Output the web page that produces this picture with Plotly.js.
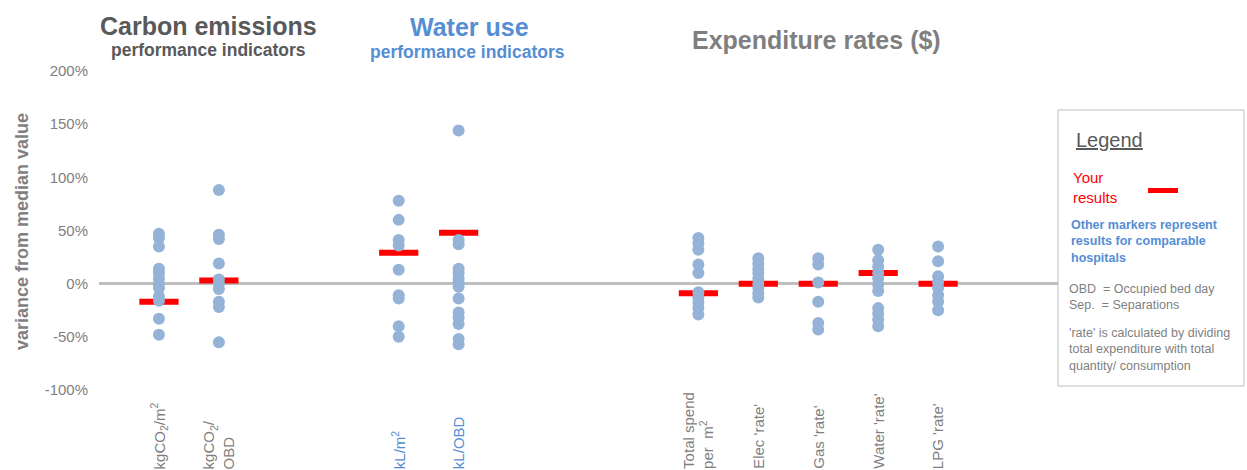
<!DOCTYPE html>
<html>
<head>
<meta charset="utf-8">
<script src="https://cdn.plot.ly/plotly-3.0.1.min.js"></script>
<style>html,body{margin:0;padding:0;background:#fff;}#chart{width:1247px;height:470px;}</style>
</head>
<body>
<div id="chart"></div>
<script>
// ---- data ----
const categories = ["kgCO2/m2", "kgCO2/OBD", "kL/m2", "kL/OBD", "Total spend per m2", "Elec 'rate'", "Gas 'rate'", "Water 'rate'", "LPG 'rate'"];
const tickLabels = ["kgCO<sub>2</sub>/m<sup>2</sup>", "kgCO<sub>2</sub>/<br>OBD", "kL/m<sup>2</sup>", "kL/OBD", "Total spend<br>per \u00a0m<sup>2</sup>", "Elec 'rate'", "Gas 'rate'", "Water 'rate'", "LPG 'rate'"];
const labelGroups = ["carbon", "carbon", "water", "water", "spend", "spend", "spend", "spend", "spend"];

const carbonPerM2 = [47, 43, 35, 14, 10, 5, 0, -4, -12, -16, -33, -48];
const carbonPerOBD = [88, 46, 42, 19, 4, 0, -5, -17, -22, -55];
const waterPerM2 = [78, 60, 41, 36, 13, -11, -14, -40, -50];
const waterPerOBD = [144, 41, 37, 14, 10, 5, 1, -3, -14, -27, -32, -38, -52, -57];
const totalSpendPerM2 = [43, 38, 32, 18, 10, -8, -13, -18, -23, -29];
const elecRate = [24, 19, 14, 10, 5, 0, -4, -9, -13];
const gasRate = [24, 18, 1, -17, -37, -43];
const waterRate = [32, 22, 16, 10, 5, -1, -7, -23, -28, -34, -40];
const lpgRate = [35, 21, 7, 1, -4, -11, -17, -25];

const yourResults = [-17, 3, 29, 48, -9, 0, 0, 10, 0];

const yTicks = [-100, -50, 0, 50, 100, 150, 200];

// ---- build ----
const comparables = [carbonPerM2, carbonPerOBD, waterPerM2, waterPerOBD, totalSpendPerM2, elecRate, gasRate, waterRate, lpgRate];
const compX = [], compY = [];
comparables.forEach((vals, i) => vals.forEach(v => { compX.push(categories[i]); compY.push(v); }));

// axis slots with spacer gaps between groups
const slots = [categories[0], categories[1], " ", "  ", categories[2], categories[3], "   ", "    ", "     ",
  categories[4], categories[5], categories[6], categories[7], categories[8]];

const FONT = "Liberation Sans, Arial, sans-serif";
const GRAY = "#7f7f7f", DARK = "#595959", BLUE = "#558ED5";

const traces = [
  {
    type: "scatter", mode: "markers", x: categories, y: yourResults, name: "Your results",
    marker: { symbol: "line-ew", size: 28, color: "#FF0000", line: { color: "#FF0000", width: 6 } },
    hoverinfo: "x+y"
  },
  {
    type: "scatter", mode: "markers", x: compX, y: compY, name: "Comparable hospitals",
    marker: { symbol: "circle", size: 12, color: "#95B3D7", line: { width: 0 } },
    hoverinfo: "x+y"
  }
];

// pixel helpers for paper placement (plot area: x 99..1058, y 71..390)
const L = 99, R = 1058, T = 71, B = 390;
const px = p => (p - L) / (R - L);
const py = p => (B - p) / (B - T);

const annotations = [];
tickLabels.forEach((t, i) => {
  annotations.push({
    xref: "x", yref: "paper", x: categories[i], y: py(471),
    xanchor: "center", yanchor: "bottom", textangle: -90, align: "left",
    text: t, showarrow: false,
    font: { family: FONT, size: 15, color: labelGroups[i] === "water" ? BLUE : GRAY }
  });
});

function centered(x, y, text, size, color, angle) {
  return { xref: "paper", yref: "paper", x: px(x), y: py(y), xanchor: "center", yanchor: "middle",
    textangle: angle || 0, showarrow: false, text: text, font: { family: FONT, size: size, color: color } };
}

annotations.push(
  centered(22, 232, "<b>variance from median value</b>", 18, GRAY, -90),
  centered(208, 26, "<b>Carbon emissions</b>", 25, DARK),
  centered(208, 50, "<b>performance indicators</b>", 17.5, DARK),
  centered(469, 27, "<b>Water use</b>", 25, BLUE),
  centered(467.5, 52, "<b>performance indicators</b>", 17.5, BLUE),
  centered(816.5, 40, "<b>Expenditure rates ($)</b>", 25, GRAY),
  // legend box texts
  { xref: "paper", yref: "paper", x: px(1074), y: py(140), xanchor: "left", yanchor: "middle", showarrow: false,
    text: "<u>Legend</u>", font: { family: FONT, size: 20, color: DARK } },
  { xref: "paper", yref: "paper", x: px(1071), y: py(167), xanchor: "left", yanchor: "top", align: "left", showarrow: false,
    text: "Your<br>results", font: { family: FONT, size: 15, color: "#FF0000" } },
  { xref: "paper", yref: "paper", x: px(1069), y: py(216), xanchor: "left", yanchor: "top", align: "left", showarrow: false,
    text: "<b>Other markers represent<br>results for comparable<br>hospitals</b>", font: { family: FONT, size: 12.5, color: BLUE } },
  { xref: "paper", yref: "paper", x: px(1067), y: py(280), xanchor: "left", yanchor: "top", align: "left", showarrow: false,
    text: "OBD \u00a0= Occupied bed day<br>Sep. \u00a0= Separations", font: { family: FONT, size: 12.5, color: GRAY } },
  { xref: "paper", yref: "paper", x: px(1067), y: py(324), xanchor: "left", yanchor: "top", align: "left", showarrow: false,
    text: "'rate' is calculated by dividing<br>total expenditure with total<br>quantity/ consumption", font: { family: FONT, size: 12.5, color: GRAY } }
);

const shapes = [
  { type: "rect", xref: "paper", yref: "paper", x0: px(1058), x1: px(1244), y0: py(386), y1: py(110),
    fillcolor: "#FFFFFF", line: { color: "#BFBFBF", width: 1 }, layer: "above" },
  { type: "line", xref: "paper", yref: "paper", x0: px(1148), x1: px(1178), y0: py(190.5), y1: py(190.5),
    line: { color: "#FF0000", width: 5 }, layer: "above" }
];

const layout = {
  width: 1247, height: 470,
  margin: { l: L, r: 1247 - R, t: T, b: 470 - B, pad: 0 },
  paper_bgcolor: "#FFFFFF", plot_bgcolor: "#FFFFFF",
  showlegend: false,
  font: { family: FONT, color: GRAY },
  xaxis: {
    type: "category", categoryorder: "array", categoryarray: slots, range: [-1, 15],
    showgrid: false, zeroline: false, showline: false, showticklabels: false, ticks: "", fixedrange: true
  },
  yaxis: {
    range: [-100, 200], tickvals: yTicks, ticktext: yTicks.map(v => v + "%"),
    showgrid: false, showline: false, ticks: "", ticklabelstandoff: 10,
    zeroline: true, zerolinecolor: "#BFBFBF", zerolinewidth: 2.5,
    tickfont: { family: FONT, size: 15, color: GRAY }, fixedrange: true
  },
  annotations: annotations,
  shapes: shapes
};

Plotly.newPlot("chart", traces, layout, { displayModeBar: false, staticPlot: true });
</script>
</body>
</html>
